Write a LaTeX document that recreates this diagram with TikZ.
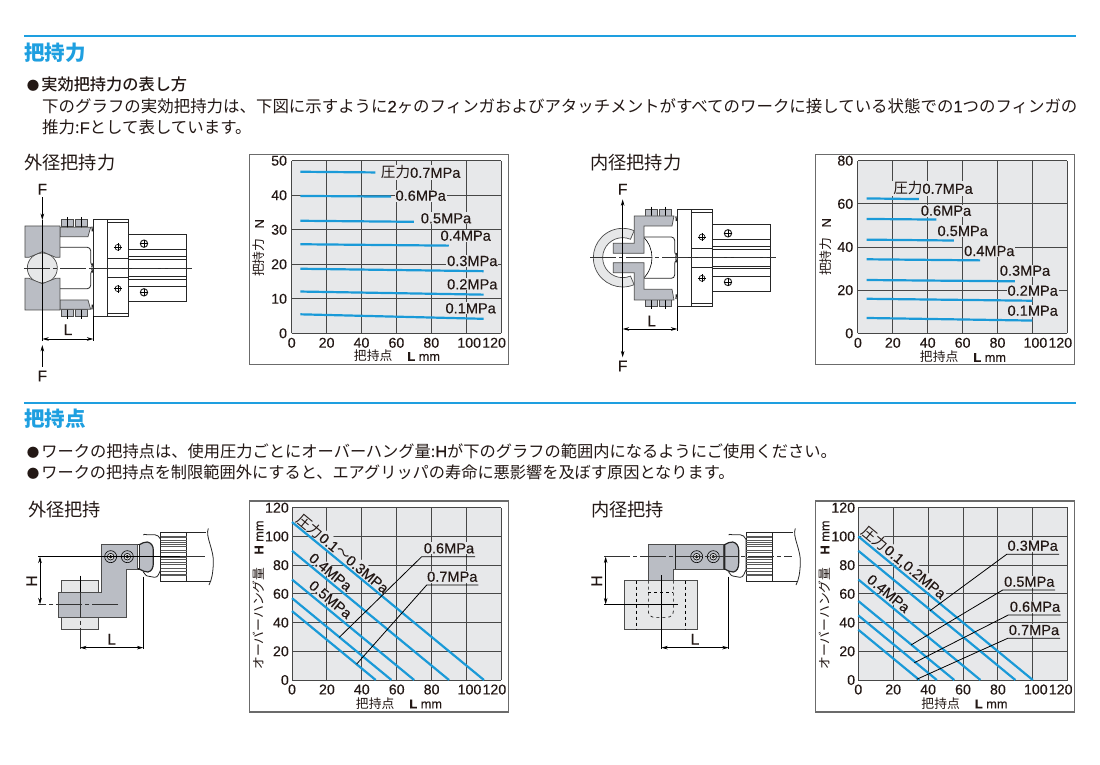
\documentclass[tikz,border=0pt]{standalone}
\usepackage{fontspec}
\setmainfont{Liberation Sans}[FakeBold=0.2]
\newfontfamily\jp{Noto Sans CJK JP}
\newfontfamily\jpm{Noto Sans CJK JP}[UprightFont=* Medium]
\usetikzlibrary{arrows.meta}
\definecolor{inktext}{HTML}{231815}
\definecolor{headblue}{HTML}{1E9FE0}
\definecolor{curveblue}{HTML}{1A9AD8}
\definecolor{plotbg}{HTML}{E7E8EA}
\definecolor{jawgray}{HTML}{BABDC4}
\definecolor{workgray}{HTML}{E6E7E8}
\tikzset{
  headrule/.style={draw=headblue,line width=1.3pt},
  headtext/.style={anchor=west,inner sep=0pt,text=headblue,font=\fontsize{20.5}{24}\jp\bfseries},
  subtext/.style={anchor=west,inner sep=0pt,text=inktext,font=\fontsize{18.2}{22}\jp},
  bodytext/.style={anchor=west,inner sep=0pt,text=inktext,font=\fontsize{16.2}{20}\jp},
  gridline/.style={draw=black!72,line width=1pt},
  framebox/.style={draw=black!58,line width=1.1pt,fill=white},
  tick/.style={inner sep=0pt,text=inktext,font=\fontsize{14.2}{16}\selectfont},
  presslabel/.style={inner sep=1pt,fill=plotbg,text=inktext,font=\fontsize{14.6}{16}\selectfont},
  slantlabel/.style={presslabel,inner sep=.2pt,rotate=-39.7},
  pressline/.style={draw=curveblue,line width=2.2pt},
  leaderline/.style={draw=black,line width=.8pt},
  axistitle/.style={inner sep=0pt,text=inktext,font=\fontsize{12.8}{15}\selectfont},
  part/.style={draw=black!85,line width=.8pt},
  jaw/.style={draw=black!70,line width=.7pt,fill=jawgray},
  work/.style={draw=black!70,line width=.7pt,fill=workgray},
  centerline/.style={draw=black!80,line width=.6pt,dash pattern=on 26pt off 3pt on 4pt off 3pt},
  thinline/.style={draw=black,line width=.6pt},
  dimline/.style={draw=black,line width=.7pt,{Stealth[length=6.5pt,width=3.6pt]}-{Stealth[length=6.5pt,width=3.6pt]}},
  forcearrow/.style={draw=black,line width=.7pt,-{Stealth[length=6.5pt,width=3.6pt]}},
  dimtext/.style={inner sep=0pt,text=inktext,font=\fontsize{15.5}{17}\selectfont},
}
\newcommand{\dotmark}{\makebox[15.2pt][l]{\hspace{.6pt}\fontsize{12.5}{14}\selectfont ●}}
\newcommand{\lat}[1]{{\rmfamily #1}}
% plot background, grid and tick numbers: left, bottom, top, y labels
\newcommand{\plotgrid}[4]{%
  \fill[plotbg] (#1,#2) rectangle (#1+209.4,#3);
  \foreach \i/\dx in {0/0,1/0,2/0,3/0,4/0,5/3,6/-7} {
    \draw[gridline] (#1+\i*34.9,#2) -- (#1+\i*34.9,#3);
    \pgfmathtruncatemacro{\xlab}{\i*20}
    \node[tick] (xt\i) at (#1+\i*34.9+\dx,#2+9.5) {\xlab};
  }
  \foreach \j [count=\k from 0] in {#4} {
    \pgfmathsetmacro{\yy}{#2+(#3-#2)*\k/(\ticks)}
    \draw[gridline] (#1,\yy) -- (#1+209.4,\yy);
    \node[tick,anchor=east] (yt\k) at (#1-\ygap,\yy) {\j};
  }
}
% one half of the gripper, plate face at the origin, centre line y=0
\newcommand{\gripperhalf}{%
  \draw[part,fill=white] (0,-146) rectangle (42,0);
  \draw[part,fill=white] (42,-146) rectangle (104,0);
  \draw[part] (42,-136) rectangle (104,-29);
  \draw[part,fill=white] (104,-100) rectangle (278,0);
  \draw[part] (104,-56) -- (278,-56);
  \draw[part,line width=1pt] (104,-34) -- (278,-34);
  \draw[part] (104,-26) -- (278,-26);
  \draw[part] (-100,-62) -- (-18,-62) to[out=0,in=90] (-8,-52) -- (-8,-18) to[out=-90,in=150] (-2,-8);
  \draw[part,line width=1.2pt] (-4,-124) to[bend right=20] (-3,-110);
  \draw[part,line width=1.2pt] (-4,-2) -- (-3,-14);
  \foreach \bx in {-77,-37} {
    \draw[jaw] (\bx-18,-146) rectangle (\bx+18,-124);
    \draw[thinline] (\bx,-153) -- (\bx,-116);
  }
  \draw[thinline] (74,-62) circle (9);
  \draw[thinline] (62,-62) -- (86,-62) (74,-74) -- (74,-50);
  \draw[part,fill=white,line width=1pt] (152,-73) circle (11);
  \draw[thinline] (141,-73) -- (163,-73) (152,-84) -- (152,-62);
}
% link, knurled head and cut tail of the drive part
\newcommand{\chuckpart}[1]{%
  \draw[part,fill=white] (0,-65) to[out=90,in=180] (10,-66) -- (34,-66)
    to[out=0,in=120] (52,-52) -- (52,40) to[out=-120,in=0] (34,62) -- (12,58) to[out=180,in=90] (0,48);
  \draw[part,fill=jawgray,line width=1.2pt] (-12,-36) to[out=20,in=170] (12,-44)
    to[out=-10,in=90] (30,-20) -- (30,20) to[out=-90,in=10] (14,46) to[out=190,in=-20] (-12,37) -- cycle;
  \draw[part,line width=1.4pt,fill=white] (-18,-36) rectangle (-12,37);
  \draw[part,fill=white] (52,-72) rectangle (130,73);
  \foreach \ky/\kh in {-62/5,-50/7,-36/4,-18/5,3/4,18/5,36/7,52/5} {
    \draw[draw=black!65,line width=.7pt] (52,\ky) -- (130,\ky);
    \draw[draw=black!65,line width=.7pt] (52,\ky+\kh) -- (130,\ky+\kh);
  }
  \draw[part] (130,-72) -- (#1+3,-72) (130,73) -- (#1+17,73);
  \draw[part] (#1+10,-85) .. controls (#1,-60) and (#1+28,-20) .. (#1+25,20) .. controls (#1+24,50) and (#1+20,70) .. (#1+12,85);
}
\newcommand{\boltpair}[2]{%
  \foreach \bx in {#1,#2} {
    \draw[thinline,fill=jawgray] (\bx,185) circle (18);
    \draw[thinline,fill=workgray] (\bx,185) circle (10);
    \draw[thinline,fill=jawgray] (\bx,185) circle (4);
  }
}
\begin{document}
\begin{tikzpicture}[x=1pt,y=-1pt,every node/.style={text=inktext}]
\useasboundingbox (0,0) rectangle (1100,764);
\fill[white] (0,0) rectangle (1100,764);

% section titles and text
\draw[headrule] (24,36) -- (1076,36);
\node[headtext] (headforce) at (24,52.5) {把持力};
\node[bodytext,font=\fontsize{16.2}{18}\jpm] (howto) at (26,84) {\dotmark 実効把持力の表し方};
\node[bodytext,font=\fontsize{16.45}{20}\jp] (bodya) at (42,106) {下のグラフの実効把持力は、下図に示すように\lat{2}ヶのフィンガおよびアタッチメントがすべてのワークに接している状態での\lat{1}つのフィンガの};
\node[bodytext,font=\fontsize{16.45}{20}\jp] (bodyb) at (42,127.5) {推力:\lat{F}として表しています。};
\node[subtext] (outerforce) at (24,163) {外径把持力};
\node[subtext] (innerforce) at (590,163) {内径把持力};
\draw[headrule] (24,403) -- (1076,403);
\node[headtext] (headpoint) at (24,418.5) {把持点};
\node[bodytext,font=\fontsize{16.25}{20}\jp] (notea) at (26,451) {\dotmark ワークの把持点は、使用圧力ごとにオーバーハング量:\lat{H}が下のグラフの範囲内になるようにご使用ください。};
\node[bodytext] (noteb) at (26,472.5) {\dotmark ワークの把持点を制限範囲外にすると、エアグリッパの寿命に悪影響を及ぼす原因となります。};
\node[subtext] (outerpoint) at (28,510) {外径把持};
\node[subtext] (innerpoint) at (591,510) {内径把持};

% outer force sketch
\begin{scope}[shift={(0,140)},x=.3333pt,y=-.3333pt]
  \begin{scope}[shift={(280,384)}] \gripperhalf \end{scope}
  \begin{scope}[shift={(280,384)},yscale=-1] \gripperhalf \end{scope}
  \draw[jaw] (180,262) -- (272,262) -- (264,290) -- (180,290) -- cycle;
  \draw[jaw] (180,508) -- (272,508) -- (264,480) -- (180,480) -- cycle;
  \draw[work] (127,384) circle (45);
  \draw[jaw] (75,258) -- (180,258) -- (180,352) -- (167,352) -- (127,335) -- (87,352) -- (75,352) -- cycle;
  \draw[jaw] (75,510) -- (180,510) -- (180,415) -- (167,415) -- (127,431) -- (87,415) -- (75,415) -- cycle;
  \draw[centerline] (72,384) -- (575,384);
  \coordinate (ofa) at (127,172);
  \coordinate (ofb) at (127,240);
  \coordinate (ofc) at (127,680);
  \coordinate (ofd) at (127,615);
  \coordinate (ofl) at (127,597);
  \coordinate (ofr) at (280,597);
  \draw[thinline] (127,240) -- (127,603);
  \draw[thinline] (280,528) -- (280,603);
  \draw[forcearrow] (ofa) -- (ofb);
  \draw[forcearrow] (ofc) -- (ofd);
  \draw[dimline] (ofl) -- (ofr);
  \node[dimtext] (ofL) at (204,569) {L};
  \node[dimtext] (ofF) at (127,148) {F};
  \node[dimtext] (ofG) at (127,708) {F};
\end{scope}

% inner force sketch
\begin{scope}[shift={(580,150)},x=.3333pt,y=-.3333pt]
  \begin{scope}[shift={(292,323)}] \gripperhalf \end{scope}
  \begin{scope}[shift={(292,323)},yscale=-1] \gripperhalf \end{scope}
  \draw[thinline] ([shift={(128,323)}]45:88) arc (45:-45:88);
  \draw[work] ([shift={(128,323)}]67:88) arc (67:293:88) -- ([shift={(128,323)}]293:60) arc (293:67:60) -- cycle;
  \draw[jaw] (163,198) -- (282,198) -- (276,228) -- (192,228) -- (192,310) -- (100,310) -- (100,280) -- (163,280) -- cycle;
  \draw[jaw] (163,450) -- (282,450) -- (276,418) -- (192,418) -- (192,338) -- (100,338) -- (100,368) -- (163,368) -- cycle;
  \draw[centerline] (30,323) -- (588,323);
  \coordinate (ifa) at (128,215);
  \coordinate (ifb) at (128,148);
  \coordinate (ifc) at (128,555);
  \coordinate (ifd) at (128,622);
  \coordinate (ifl) at (128,537);
  \coordinate (ifr) at (292,537);
  \draw[thinline] (128,215) -- (128,555);
  \draw[thinline] (292,470) -- (292,543);
  \draw[forcearrow] (ifa) -- (ifb);
  \draw[forcearrow] (ifc) -- (ifd);
  \draw[dimline] (ifl) -- (ifr);
  \node[dimtext] (ifL) at (215,513) {L};
  \node[dimtext] (ifF) at (128,118) {F};
  \node[dimtext] (ifG) at (128,648) {F};
\end{scope}

% outer point sketch
\begin{scope}[shift={(20,495)},x=.3333pt,y=-.3333pt]
  \begin{scope}[shift={(370,185)}] \chuckpart{185} \end{scope}
  \draw[work] (125,257) rectangle (235,403);
  \draw[jaw] (245,149) -- (352,149) -- (352,222) -- (318,222) -- (318,366) -- (115,366) -- (115,292) -- (245,292) -- cycle;
  \boltpair{272}{322}
  \draw[thinline] (55,185) -- (480,185);
  \draw[centerline] (480,185) -- (555,185);
  \draw[centerline] (295,328) -- (55,328);
  \draw[thinline] (180,242) -- (180,290);
  \draw[centerline] (180,290) -- (180,462);
  \draw[thinline] (370,245) -- (370,462);
  \coordinate (ophu) at (60,185);
  \coordinate (ophd) at (60,328);
  \coordinate (opll) at (180,458);
  \coordinate (oplr) at (370,458);
  \draw[dimline] (ophu) -- (ophd);
  \draw[dimline] (opll) -- (oplr);
  \node[dimtext,rotate=90] (opH) at (35,258) {H};
  \node[dimtext] (opL) at (275,433) {L};
\end{scope}

% inner point sketch
\begin{scope}[shift={(585,495)},x=.3333pt,y=-.3333pt]
  \begin{scope}[shift={(431,185)}] \chuckpart{190} \end{scope}
  \draw[work] (118,257) rectangle (337,403);
  \draw[jaw] (190,149) -- (415,149) -- (415,222) -- (265,222) -- (265,257) -- (190,257) -- cycle;
  \draw[part] (272,149) -- (272,222);
  \draw[thinline,dashed] (155,257) -- (155,403) (300,257) -- (300,403);
  \draw[thinline,dashed,rounded corners=6pt] (190,257) -- (190,367) -- (265,367) -- (265,257);
  \draw[thinline,dashed] (190,292) -- (265,292);
  \boltpair{335}{385}
  \draw[centerline] (58,185) -- (620,185);
  \draw[thinline] (58,328) -- (278,328);
  \draw[thinline] (229,240) -- (229,462);
  \draw[thinline] (431,245) -- (431,462);
  \coordinate (iphu) at (62,185);
  \coordinate (iphd) at (62,328);
  \coordinate (ipll) at (229,458);
  \coordinate (iplr) at (431,458);
  \draw[dimline] (iphu) -- (iphd);
  \draw[dimline] (ipll) -- (iplr);
  \node[dimtext,rotate=90] (ipH) at (35,258) {H};
  \node[dimtext] (ipL) at (330,433) {L};
\end{scope}

% force chart, outer
\draw[framebox] (249.5,154.5) rectangle (508.5,364.5);
\def\ticks{5}
\def\ygap{4.5}
\plotgrid{291.7}{333.3}{160.7}{0,10,20,30,40,50}
\node[presslabel] (afa) at (420.7,172.3) {{\jp 圧力}0.7MPa};
\node[presslabel] (afb) at (420.7,195.7) {0.6MPa};
\node[presslabel] (afc) at (446,218.3) {0.5MPa};
\node[presslabel] (afd) at (465.7,235.7) {0.4MPa};
\node[presslabel] (afe) at (472.3,261) {0.3MPa};
\node[presslabel] (aff) at (472.3,284.3) {0.2MPa};
\node[presslabel] (afg) at (470.7,308.3) {0.1MPa};
\begin{scope}[shift={(291.7,333.3)},x=1.745pt,y=3.452pt]
  \draw[pressline] (5,46.8) -- (48,46.6);
  \draw[pressline] (5,39.8) -- (57,39.6);
  \draw[pressline] (5,32.6) -- (70,32.3);
  \draw[pressline] (5,25.8) -- (90,25.4);
  \draw[pressline] (5,18.7) -- (110,18);
  \draw[pressline] (5,12.1) -- (110,11.2);
  \draw[pressline] (5,5.5) -- (110,4.2);
\end{scope}
\node[axistitle] (axa) at (397,356) {{\jp 把持点}\hspace{15pt}{\bfseries L} mm};
\node[axistitle,rotate=90] (aya) at (259,248) {{\jp 把持力}\hspace{10pt}N};

% force chart, inner
\draw[framebox] (815.5,154.5) rectangle (1074.5,364.5);
\def\ticks{4}
\plotgrid{857.9}{333.3}{160.7}{0,20,40,60,80}
\node[presslabel] (bfa) at (933,188.3) {{\jp 圧力}0.7MPa};
\node[presslabel] (bfb) at (946,210.7) {0.6MPa};
\node[presslabel] (bfc) at (962.7,231) {0.5MPa};
\node[presslabel] (bfd) at (989.3,251) {0.4MPa};
\node[presslabel] (bfe) at (1025,270.7) {0.3MPa};
\node[presslabel] (bff) at (1032.7,290.7) {0.2MPa};
\node[presslabel] (bfg) at (1032.7,310.7) {0.1MPa};
\begin{scope}[shift={(857.9,333.3)},x=1.745pt,y=2.158pt]
  \draw[pressline] (5,62.5) -- (35,62.2);
  \draw[pressline] (5,53) -- (45,52.7);
  \draw[pressline] (5,43.4) -- (55,43);
  \draw[pressline] (5,34.3) -- (70,33.8);
  \draw[pressline] (5,24.7) -- (90,24.1);
  \draw[pressline] (5,16) -- (100,15.1);
  \draw[pressline] (5,7.1) -- (100,5.9);
\end{scope}
\node[axistitle] (axb) at (963,357) {{\jp 把持点}\hspace{15pt}{\bfseries L} mm};
\node[axistitle,rotate=90] (ayb) at (826,247) {{\jp 把持力}\hspace{10pt}N};

% overhang chart, outer
\draw[framebox] (249.5,501) rectangle (508.5,712);
\def\ticks{6}
\def\ygap{3}
\plotgrid{292}{680}{507.7}{0,20,40,60,80,100,120}
\node[slantlabel] (cfa) at (343,553.5) {{\jp 圧力}0.1\raisebox{1pt}{\jp ～}0.3MPa};
\node[slantlabel] (cfb) at (330.5,572) {0.4MPa};
\node[slantlabel] (cfc) at (330.5,599.5) {0.5MPa};
\begin{scope}[shift={(292,680)},x=1.745pt,y=1.436pt]
  \draw[pressline] (0,110) -- (110,0);
  \draw[pressline] (0,90) -- (90,0);
  \draw[pressline] (0,70) -- (70,0);
  \draw[pressline] (0,57) -- (57,0);
  \draw[pressline] (0,48) -- (48,0);
\end{scope}
\node[presslabel] (cfd) at (449,548.3) {0.6MPa};
\coordinate (cde) at (475,556.7);
\coordinate (cdk) at (421.7,556.7);
\coordinate (cds) at (339.3,637.3);
\draw[leaderline] (cde) -- (cdk) -- (cds);
\node[presslabel] (cfe) at (452.3,576.7) {0.7MPa};
\coordinate (cee) at (478.3,585);
\coordinate (cek) at (426.7,585);
\coordinate (ces) at (356.7,664);
\draw[leaderline] (cee) -- (cek) -- (ces);
\node[axistitle] (axc) at (399,703.5) {{\jp 把持点}\hspace{15pt}{\bfseries L} mm};
\node[axistitle,rotate=90] (ayc) at (258.5,595) {{\jp オーバーハング量}\hspace{13pt}{\bfseries H} mm};

% overhang chart, inner
\draw[framebox] (815.5,501) rectangle (1074.5,712);
\def\ticks{6}
\plotgrid{858.3}{680}{507.7}{0,20,40,60,80,100,120}
\node[slantlabel] (dfa) at (904,562.5) {{\jp 圧力}0.1,0.2MPa};
\node[slantlabel] (dfb) at (888.5,593.5) {0.4MPa};
\begin{scope}[shift={(858.3,680)},x=1.745pt,y=1.436pt]
  \draw[pressline] (0,100) -- (100,0);
  \draw[pressline] (0,90) -- (90,0);
  \draw[pressline] (0,70) -- (70,0);
  \draw[pressline] (0,55) -- (55,0);
  \draw[pressline] (0,45) -- (45,0);
  \draw[pressline] (0,35) -- (35,0);
\end{scope}
\node[presslabel] (dfc) at (1032.7,545.7) {0.3MPa};
\coordinate (dce) at (1059,554.3);
\coordinate (dck) at (1006.7,554.3);
\coordinate (dcs) at (930,610.7);
\draw[leaderline] (dce) -- (dck) -- (dcs);
\node[presslabel] (dfd) at (1029.3,581.7) {0.5MPa};
\coordinate (dde) at (1055,590);
\coordinate (ddk) at (1002.7,590);
\coordinate (dds) at (911,645);
\draw[leaderline] (dde) -- (ddk) -- (dds);
\node[presslabel] (dfe) at (1035,606.7) {0.6MPa};
\coordinate (dee) at (1060.7,615);
\coordinate (dek) at (1008.3,615);
\coordinate (des) at (914.3,662.7);
\draw[leaderline] (dee) -- (dek) -- (des);
\node[presslabel] (dff) at (1034,630) {0.7MPa};
\coordinate (dge) at (1060,638.3);
\coordinate (dgk) at (1007.7,638.3);
\coordinate (dgs) at (916.7,679.3);
\draw[leaderline] (dge) -- (dgk) -- (dgs);
\node[axistitle] (axd) at (964.5,703.5) {{\jp 把持点}\hspace{15pt}{\bfseries L} mm};
\node[axistitle,rotate=90] (ayd) at (824.5,595) {{\jp オーバーハング量}\hspace{13pt}{\bfseries H} mm};
\end{tikzpicture}
\end{document}
